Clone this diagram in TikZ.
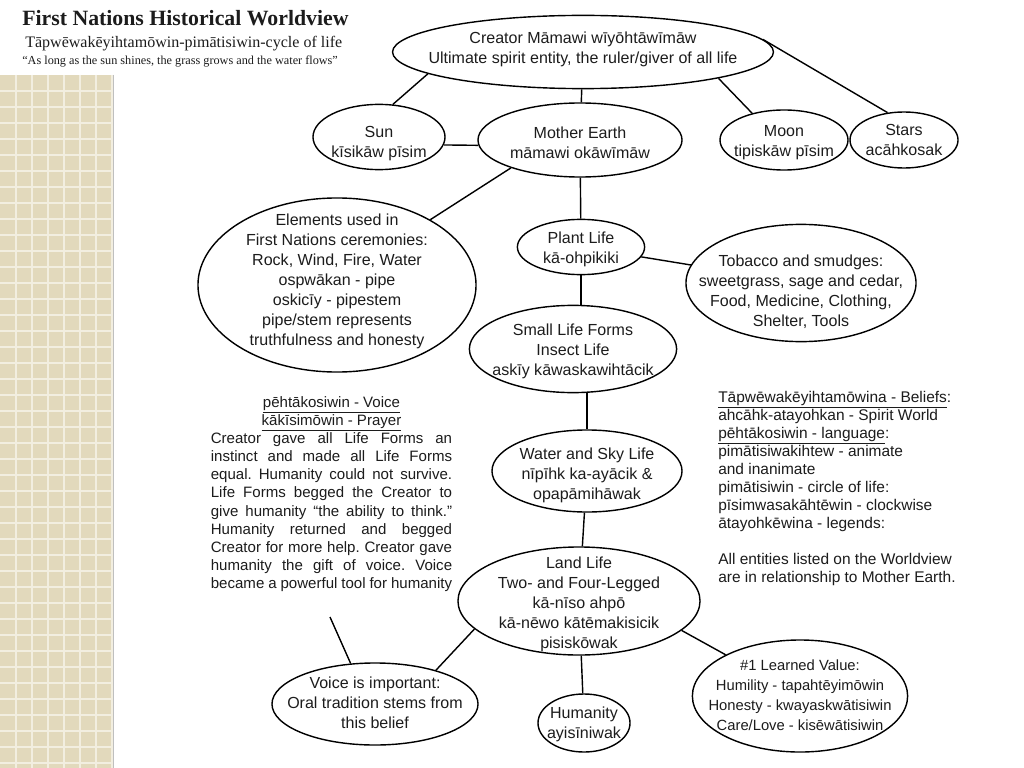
\documentclass[tikz,border=0pt]{standalone}
\usepackage{fontspec}
\setmainfont{Liberation Sans}
\newfontfamily\titlefont{Liberation Serif}
\usetikzlibrary{shapes.geometric}
\definecolor{tile}{RGB}{226,217,188}
\definecolor{grout}{RGB}{242,238,224}
\definecolor{ink}{RGB}{28,28,28}
\newcommand{\fullline}[1]{\makebox[6.03cm][s]{#1}}
\frenchspacing

\begin{document}
\begin{tikzpicture}[x=0.025cm,y=-0.025cm,
    bubble/.style={draw=black, ellipse, line width=1pt, inner sep=0pt},
    words/.style={align=center, text=ink, inner sep=0pt, font=\fontsize{11.4}{14.2}\selectfont},
    link/.style={line width=1pt}]
\useasboundingbox (0,0) rectangle (1024,768);
\fill[white] (0,0) rectangle (1024,768);

% tiled strip at the left edge
\fill[tile] (0,75) rectangle (113,768);
\foreach \x in {16,32,...,112} \draw[grout, line width=1.2pt] (\x,75) -- (\x,768);
\foreach \y in {91,107,...,767} \draw[grout, line width=1.2pt] (0,\y) -- (113,\y);
\draw[black!25, line width=1pt] (113.5,75) -- (113.5,768);

% heading
\node[anchor=base west, inner sep=0pt, text=ink, font=\titlefont\bfseries\fontsize{15.5}{18}\selectfont] (title) at (22,26) {First Nations Historical Worldview};
\node[anchor=base west, inner sep=0pt, text=ink, font=\titlefont\fontsize{11.4}{13}\selectfont] (subtitle) at (25,48) {Tāpwēwakēyihtamōwin-pimātisiwin-cycle of life};
\node[anchor=base west, inner sep=0pt, text=ink, font=\titlefont\fontsize{8.7}{10}\selectfont] (motto) at (22,65) {“As long as the sun shines, the grass grows and the water flows”};

% ellipses
\node[bubble, minimum width=9.52cm, minimum height=1.83cm] (creator) at (583,52) {};
\node[bubble, minimum width=3.3cm, minimum height=1.63cm] (sun) at (379,137) {};
\node[bubble, minimum width=5.1cm, minimum height=1.85cm] (mother) at (580,140) {};
\node[bubble, minimum width=3.2cm, minimum height=1.5cm] (moon) at (784,140) {};
\node[bubble, minimum width=2.7cm, minimum height=1.4cm] (stars) at (904,140) {};
\node[bubble, minimum width=6.95cm, minimum height=4.35cm] (elements) at (337,285) {};
\node[bubble, minimum width=3.18cm, minimum height=1.38cm] (plant) at (581,247) {};
\node[bubble, minimum width=5.75cm, minimum height=2.93cm] (tobacco) at (801,283) {};
\node[bubble, minimum width=5.18cm, minimum height=2.18cm] (small) at (573,349) {};
\node[bubble, minimum width=4.75cm, minimum height=2.05cm] (water) at (587,471) {};
\node[bubble, minimum width=6.05cm, minimum height=2.7cm] (land) at (579,601) {};
\node[bubble, minimum width=5.15cm, minimum height=2.05cm] (voice) at (375,704) {};
\node[bubble, minimum width=2.3cm, minimum height=1.45cm] (humanity) at (584,723) {};
\node[bubble, minimum width=5.38cm, minimum height=2.8cm] (value) at (800,696) {};

% texts in the ellipses
\node[words, yshift=2.2pt] (creatortxt) at (creator) {Creator Māmawi wīyōhtāwīmāw\\Ultimate spirit entity, the ruler/giver of all life};
\node[words, yshift=-5pt] (suntxt) at (sun) {Sun\\kīsikāw pīsim};
\node[words, yshift=-1.8pt] (mothertxt) at (mother) {Mother Earth\\māmawi okāwīmāw};
\node[words, yshift=-1.8pt] (moontxt) at (moon) {Moon\\tipiskāw pīsim};
\node[words] (starstxt) at (stars) {Stars\\acāhkosak};
\node[words, yshift=2.5pt] (elementstxt) at (elements) {Elements used in\\First Nations ceremonies:\\Rock, Wind, Fire, Water\\ospwākan - pipe\\oskicīy - pipestem\\pipe/stem represents\\truthfulness and honesty};
\node[words, yshift=-1.4pt] (planttxt) at (plant) {Plant Life\\kā-ohpikiki};
\node[words, yshift=-6pt] (tobaccotxt) at (tobacco) {Tobacco and smudges:\\sweetgrass, sage and cedar,\\Food, Medicine, Clothing,\\Shelter, Tools};
\node[words, yshift=-1.8pt] (smalltxt) at (small) {Small Life Forms\\Insect Life\\askīy kāwaskawihtācik};
\node[words, yshift=-2.8pt] (watertxt) at (water) {Water and Sky Life\\nīpīhk ka-ayācik \&\\opapāmihāwak};
\node[words, yshift=-2.1pt] (landtxt) at (land) {Land Life\\Two- and Four-Legged\\kā-nīso ahpō\\kā-nēwo kātēmakisicik\\pisiskōwak};
\node[words, yshift=0.7pt] (voicetxt) at (voice) {Voice is important:\\Oral tradition stems from\\this belief};
\node[words, yshift=-1pt] (humanitytxt) at (humanity) {Humanity\\ayisīniwak};
\node[words, yshift=0.7pt, font=\fontsize{10.5}{14.2}\selectfont] (valuetxt) at (value) {\#1 Learned Value:\\Humility - tapahtēyimōwin\\Honesty - kwayaskwātisiwin\\Care/Love - kisēwātisiwin};

% free text
\node[anchor=north, inner sep=0pt, align=center, text=ink, font=\fontsize{10.7}{12.9}\selectfont] (story) at (331.5,396) {\underline{pēhtākosiwin - Voice}\\\underline{kākīsimōwin - Prayer}\\
\fullline{Creator gave all Life Forms an}\\
\fullline{instinct and made all Life Forms}\\
\fullline{equal. Humanity could not survive.}\\
\fullline{Life Forms begged the Creator to}\\
\fullline{give humanity “the ability to think.”}\\
\fullline{Humanity returned and begged}\\
\fullline{Creator for more help. Creator gave}\\
\fullline{humanity the gift of voice. Voice}\\
\fullline{became a powerful tool for humanity}};
\node[anchor=north west, inner sep=0pt, align=left, text=ink, font=\fontsize{11}{12.8}\selectfont] (beliefs) at (718,391) {\underline{Tāpwēwakēyihtamōwina - Beliefs}:\\ahcāhk-atayohkan - Spirit World\\\underline{pēhtākosiwin - language}:\\pimātisiwakihtew - animate\\and inanimate\\pimātisiwin - circle of life:\\pīsimwasakāhtēwin - clockwise\\ātayohkēwina - legends:\\[12.8pt]All entities listed on the Worldview\\are in relationship to Mother Earth.};

% connectors
\draw[link] (creator.188) -- (sun.67);
\draw[link] (creator) -- (mother);
\draw[link] (creator.349) -- (moon.140);
\draw[link] (creator.4) -- (stars.121);
\draw[link] (sun.-7) -- (mother.183);
\draw[link] (mother.202) -- (elements.35);
\draw[link] (mother) -- (plant);
\draw[link] (plant) -- (tobacco);
\draw[link] (plant.south) -- (plant.south |- small.north);
\draw[link] (water.north |- small.south) -- (water.north);
\draw[link] (water) -- (land);
\draw[link] (land.195) -- (voice.29);
\draw[link] (land) -- (humanity);
\draw[link] (land.344) -- (value.151);
\coordinate (storytail) at (330,617);
\draw[link] (storytail) -- (voice.121);
\end{tikzpicture}
\end{document}
